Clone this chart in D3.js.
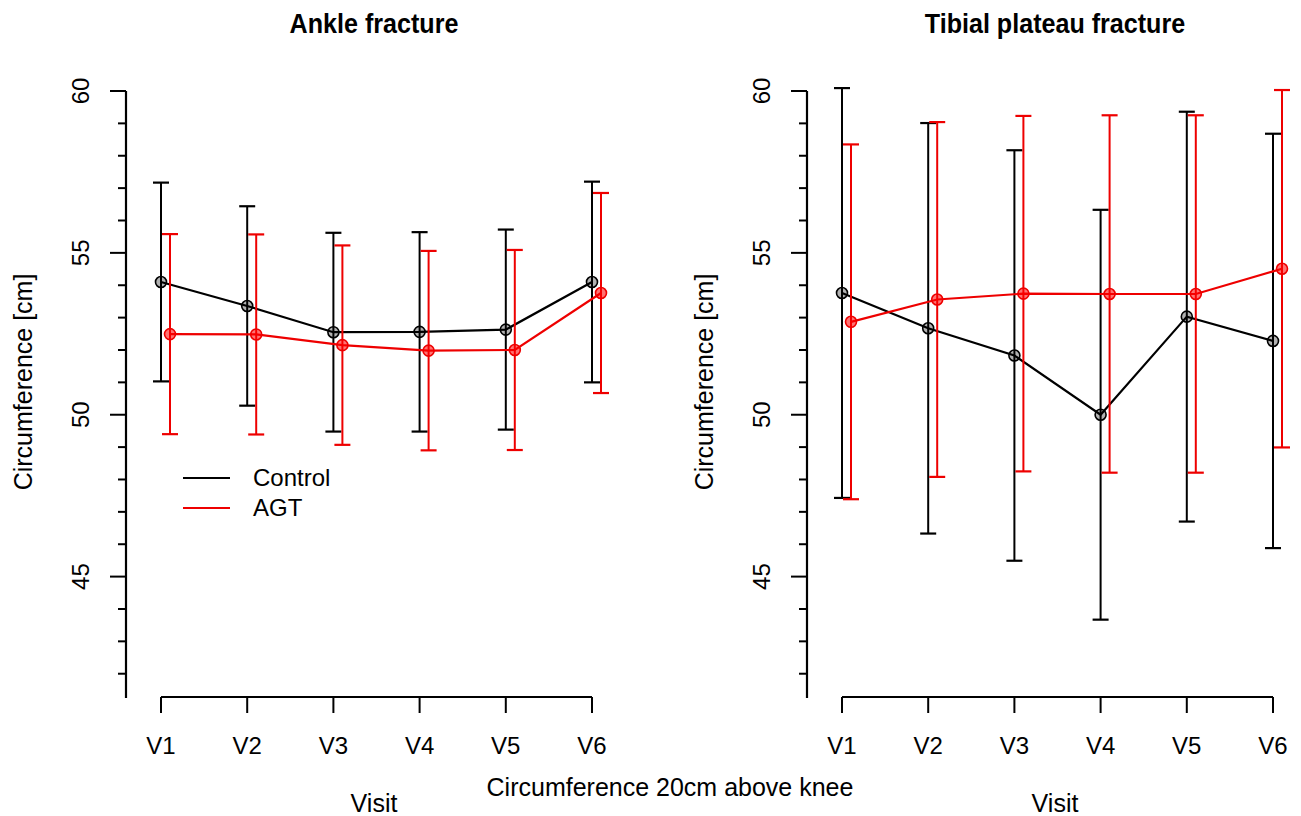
<!DOCTYPE html>
<html>
<head>
<meta charset="utf-8">
<script src="https://cdn.jsdelivr.net/npm/d3@7"></script>
<style>
  body { margin: 0; background: #fff; }
  text { font-family: "Liberation Sans", Arial, sans-serif; fill: #000; }
  .ttl { font-family: "Liberation Sans Narrow", "Arial Narrow", "Liberation Sans", sans-serif; font-weight: bold; }
</style>
</head>
<body>
<svg id="chart" width="1301" height="816"></svg>
<script>
// values (mean and error half-width, cm)
var visits = ["V1", "V2", "V3", "V4", "V5", "V6"];
var panelTitles = ["Ankle fracture", "Tibial plateau fracture"];
var seriesNames = ["Control", "AGT"];
var yMajorTicks = [45, 50, 55, 60];
var yMinorTicks = [42, 43, 44, 46, 47, 48, 49, 51, 52, 53, 54, 56, 57, 58, 59];

var ankleControl = [54.10, 53.36, 52.55, 52.56, 52.63, 54.10];
var ankleControlErr = [3.07, 3.08, 3.07, 3.08, 3.09, 3.10];
var ankleAGT = [52.49, 52.48, 52.15, 51.98, 52.00, 53.76];
var ankleAGTErr = [3.09, 3.09, 3.08, 3.08, 3.09, 3.09];

var tibialControl = [53.76, 52.67, 51.83, 50.00, 53.03, 52.28];
var tibialControlErr = [6.33, 6.34, 6.34, 6.33, 6.33, 6.40];
var tibialAGT = [52.87, 53.56, 53.74, 53.73, 53.73, 54.51];
var tibialAGTErr = [5.48, 5.48, 5.49, 5.52, 5.52, 5.52];

var panels = [
    {title: panelTitles[0], ox: 0, legend: true,
     series: [{name: seriesNames[0], mean: ankleControl, err: ankleControlErr},
              {name: seriesNames[1], mean: ankleAGT, err: ankleAGTErr}]},
    {title: panelTitles[1], ox: 681, legend: false,
     series: [{name: seriesNames[0], mean: tibialControl, err: tibialControlErr},
              {name: seriesNames[1], mean: tibialAGT, err: tibialAGTErr}]}
];

var colors = ["#000000", "#ee0000"];
var fills = ["rgba(0,0,0,0.3)", "rgba(255,0,0,0.55)"];
var shift = [0, 9];   // AGT drawn slightly right of the visit
var cap = 8;

var svg = d3.select("#chart");

var y = d3.scaleLinear().domain([41.25, 60]).range([698, 91]);
var x = d3.scalePoint().domain(visits).range([161, 592]);

panels.forEach(function (p) {
    var g = svg.append("g").attr("transform", "translate(" + p.ox + ",0)");

    // title (narrow bold look)
    g.append("text").attr("class", "ttl")
        .attr("transform", "translate(374,33) scale(0.93,1)")
        .attr("text-anchor", "middle")
        .style("font-size", "27px")
        .text(p.title);

    // y axis
    g.append("line")
        .attr("x1", 126).attr("x2", 126)
        .attr("y1", y(60)).attr("y2", y.range()[0])
        .attr("stroke", "#000").attr("stroke-width", 2.2);
    g.selectAll(".ymaj").data(yMajorTicks).enter().append("line")
        .attr("x1", 110).attr("x2", 126)
        .attr("y1", function (d) { return y(d); })
        .attr("y2", function (d) { return y(d); })
        .attr("stroke", "#000").attr("stroke-width", 2);
    g.selectAll(".ymin").data(yMinorTicks).enter().append("line")
        .attr("x1", 118).attr("x2", 126)
        .attr("y1", function (d) { return y(d); })
        .attr("y2", function (d) { return y(d); })
        .attr("stroke", "#000").attr("stroke-width", 2);
    g.selectAll(".ylab").data(yMajorTicks).enter().append("text")
        .attr("transform", function (d) { return "translate(89," + y(d) + ") rotate(-90)"; })
        .attr("text-anchor", "middle")
        .style("font-size", "24px")
        .text(function (d) { return d; });
    g.append("text")
        .attr("transform", "translate(32,382) rotate(-90)")
        .attr("text-anchor", "middle")
        .style("font-size", "25px")
        .text("Circumference [cm]");

    // x axis
    g.append("line")
        .attr("x1", x(visits[0])).attr("x2", x(visits[visits.length - 1]))
        .attr("y1", 697).attr("y2", 697)
        .attr("stroke", "#000").attr("stroke-width", 2.2);
    g.selectAll(".xt").data(visits).enter().append("line")
        .attr("x1", function (d) { return x(d); })
        .attr("x2", function (d) { return x(d); })
        .attr("y1", 697).attr("y2", 713)
        .attr("stroke", "#000").attr("stroke-width", 2);
    g.selectAll(".xl").data(visits).enter().append("text")
        .attr("x", function (d) { return x(d); })
        .attr("y", 754)
        .attr("text-anchor", "middle")
        .style("font-size", "24px")
        .text(function (d) { return d; });
    g.append("text")
        .attr("x", 374).attr("y", 812)
        .attr("text-anchor", "middle")
        .style("font-size", "25px")
        .text("Visit");

    // series: error bars, line, points
    p.series.forEach(function (s, si) {
        var pts = s.mean.map(function (m, i) {
            return {v: visits[i], m: m, e: s.err[i]};
        });
        var px = function (d) { return x(d.v) + shift[si]; };
        var sg = g.append("g");

        sg.selectAll(".eb").data(pts).enter().append("line")
            .attr("x1", px).attr("x2", px)
            .attr("y1", function (d) { return y(d.m + d.e); })
            .attr("y2", function (d) { return y(d.m - d.e); })
            .attr("stroke", colors[si]).attr("stroke-width", 2);
        [1, -1].forEach(function (sign) {
            sg.selectAll(".cap" + sign).data(pts).enter().append("line")
                .attr("x1", function (d) { return px(d) - cap; })
                .attr("x2", function (d) { return px(d) + cap; })
                .attr("y1", function (d) { return y(d.m + sign * d.e); })
                .attr("y2", function (d) { return y(d.m + sign * d.e); })
                .attr("stroke", colors[si]).attr("stroke-width", 2.2);
        });

        sg.append("path").datum(pts)
            .attr("d", d3.line().x(px).y(function (d) { return y(d.m); }))
            .attr("fill", "none")
            .attr("stroke", colors[si]).attr("stroke-width", 2.2);

        sg.selectAll(".pt").data(pts).enter().append("circle")
            .attr("cx", px)
            .attr("cy", function (d) { return y(d.m); })
            .attr("r", 5.5)
            .attr("fill", fills[si])
            .attr("stroke", colors[si]).attr("stroke-width", 1.6);
    });

    // legend
    if (p.legend) {
        var lg = g.append("g");
        p.series.forEach(function (s, si) {
            var ly = 478 + si * 30;
            lg.append("line")
                .attr("x1", 183).attr("x2", 230)
                .attr("y1", ly).attr("y2", ly)
                .attr("stroke", colors[si]).attr("stroke-width", 2.2);
            lg.append("text")
                .attr("x", 253).attr("y", ly + 8)
                .style("font-size", "24px")
                .text(s.name);
        });
    }
});

svg.append("text")
    .attr("x", 670).attr("y", 796)
    .attr("text-anchor", "middle")
    .style("font-size", "25px")
    .text("Circumference 20cm above knee");
</script>
</body>
</html>
